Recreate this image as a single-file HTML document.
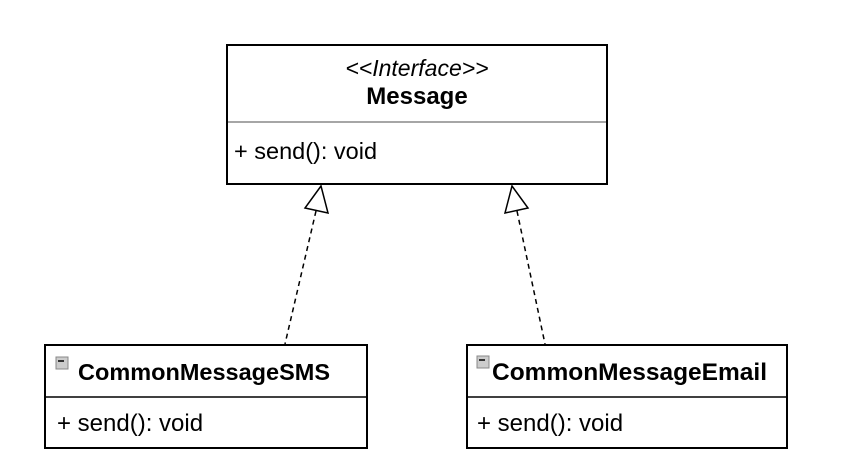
<!DOCTYPE html>
<html><head><style>
body{margin:0;background:#fff;width:848px;height:470px;overflow:hidden;font-family:"Liberation Sans",Arial,sans-serif;}
.t{position:absolute;color:#000;white-space:nowrap;line-height:1}
</style></head><body>
<svg width="848" height="470" style="position:absolute;left:0;top:0">
<rect x="227" y="45" width="380" height="139" fill="#fff" stroke="#000" stroke-width="2"/>
<line x1="228" y1="122" x2="606" y2="122" stroke="#888" stroke-width="1.5"/>
<rect x="45" y="345" width="322" height="103" fill="#fff" stroke="#000" stroke-width="2"/>
<line x1="45" y1="397" x2="367" y2="397" stroke="#000" stroke-width="1.5"/>
<rect x="467" y="345" width="320" height="103" fill="#fff" stroke="#000" stroke-width="2"/>
<line x1="467" y1="397" x2="787" y2="397" stroke="#000" stroke-width="1.5"/>
<line x1="316" y1="211" x2="285" y2="344" stroke="#000" stroke-width="1.5" stroke-dasharray="5,4"/>
<polygon points="321,186 305,208 328,213" fill="#fff" stroke="#000" stroke-width="1.5"/>
<line x1="517" y1="211" x2="545" y2="344" stroke="#000" stroke-width="1.5" stroke-dasharray="5,4"/>
<polygon points="512,186 505,213 528,208" fill="#fff" stroke="#000" stroke-width="1.5"/>
<rect x="56" y="357" width="12" height="12" fill="#ccc" stroke="#888"/>
<line x1="58" y1="361" x2="64" y2="361" stroke="#000" stroke-width="1.5"/>
<rect x="477" y="356" width="12" height="12" fill="#ccc" stroke="#888"/>
<line x1="479" y1="360" x2="485" y2="360" stroke="#000" stroke-width="1.5"/>
</svg>
<div class="t" style="left:227px;width:380px;text-align:center;top:57px;font-size:23px;font-style:italic">&lt;&lt;Interface&gt;&gt;</div>
<div class="t" style="left:227px;width:380px;text-align:center;top:85px;font-size:24px;font-weight:bold">Message</div>
<div class="t" style="left:234px;top:140px;font-size:23.5px">+ send(): void</div>
<div class="t" style="left:78px;top:361px;font-size:23.5px;font-weight:bold">CommonMessageSMS</div>
<div class="t" style="left:57px;top:412px;font-size:24px">+ send(): void</div>
<div class="t" style="left:492px;top:361px;font-size:24.5px;font-weight:bold">CommonMessageEmail</div>
<div class="t" style="left:477px;top:412px;font-size:24px">+ send(): void</div>
</body></html>
